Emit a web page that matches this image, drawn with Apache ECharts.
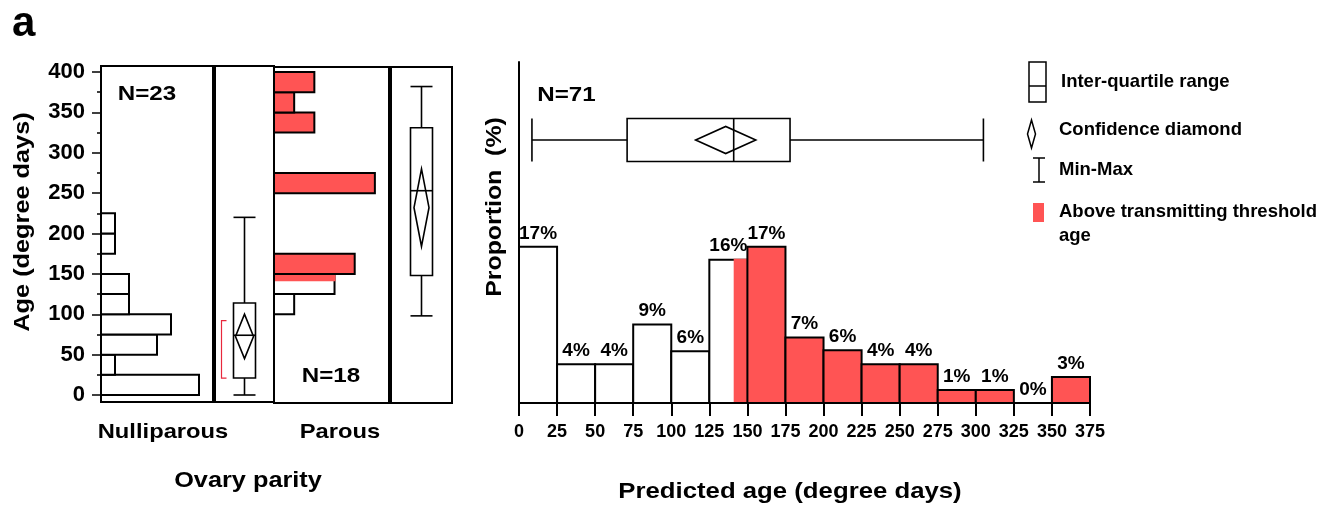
<!DOCTYPE html>
<html>
<head>
<meta charset="utf-8">
<script src="https://cdn.jsdelivr.net/npm/echarts@6/dist/echarts.min.js"></script>
<style>
html, body { margin: 0; padding: 0; background: #fff; }
#chart { width: 1330px; height: 506px; }
</style>
</head>
<body>
<div id="chart"></div>
<script>
var FONT = '"Liberation Sans", Arial, sans-serif';
var RED = '#ff5454';

// bins are 25 degree days wide
var binWidth = 25;
var threshold = 141;

// left: age histograms by ovary parity (counts per bin)
var nulliBinStart = [0, 25, 50, 75, 100, 125, 150, 175, 200];
var nulliCount = [7, 1, 4, 5, 2, 2, 0, 1, 1];
var parousBinStart = [100, 125, 150, 175, 200, 225, 250, 275, 300, 325, 350, 375];
var parousCount = [1, 3, 4, 0, 0, 0, 5, 0, 0, 2, 1, 2];
var ageTicks = [0, 400, 50];

// box summaries: min, q1, median, q3, max
var nulliBox = [0, 21, 74, 114, 220];
var parousBox = [98, 148, 253, 331, 382];
var allBox = [8.5, 71, 141, 178, 305];
// confidence diamonds: low, high
var nulliDiamond = [45, 100];
var parousDiamond = [184, 280];
var allDiamond = [116, 155.5];
var nulliShortHalf = [21, 92];

// right: proportion (%) of predicted age per bin
var ageBinStart = [0, 25, 50, 75, 100, 125, 150, 175, 200, 225, 250, 275, 300, 325, 350];
var proportion = [16.9, 4.2, 4.2, 8.5, 5.6, 15.5, 16.9, 7.1, 5.7, 4.2, 4.2, 1.4, 1.4, 0, 2.8];
var proportionLabel = ['17%', '4%', '4%', '9%', '6%', '16%', '17%', '7%', '6%', '4%', '4%', '1%', '1%', '0%', '3%'];

function pairs(a, b) {
	return a.map(function (v, i) { return [v, b[i]]; });
}

function horizontalBars(markThreshold) {
	return function (params, api) {
		var lo = api.value(0), n = api.value(1), hi = lo + binWidth;
		if (!n) return null;
		var a = api.coord([0, hi]), b = api.coord([n, lo]);
		var children = [{
			type: 'rect',
			shape: { x: a[0], y: a[1], width: b[0] - a[0], height: b[1] - a[1] },
			style: { fill: markThreshold && lo >= threshold ? RED : '#fff', stroke: '#000', lineWidth: 2 }
		}];
		if (markThreshold && lo < threshold && hi > threshold) {
			var t = api.coord([n, threshold]);
			children.push({
				type: 'rect',
				shape: { x: a[0] + 1, y: a[1], width: t[0] - a[0], height: t[1] - a[1] },
				style: { fill: RED }
			});
		}
		return { type: 'group', children: children };
	};
}

function verticalBars(params, api) {
	var lo = api.value(0), pct = api.value(1), hi = lo + binWidth;
	var base = api.coord([lo, 0]), top = api.coord([hi, pct]);
	var children = [];
	if (pct > 0) {
		children.push({
			type: 'rect',
			shape: { x: base[0], y: top[1], width: top[0] - base[0], height: base[1] - top[1] },
			style: { fill: lo >= threshold ? RED : '#fff', stroke: '#000', lineWidth: 2 }
		});
		if (lo < threshold && hi > threshold) {
			var s = api.coord([threshold, 0]);
			children.push({
				type: 'rect',
				shape: { x: s[0], y: top[1] - 1, width: top[0] - s[0], height: base[1] - top[1] },
				style: { fill: RED }
			});
		}
	}
	var lp = api.coord([lo + binWidth / 2, pct]);
	children.push({
		type: 'text', x: lp[0], y: lp[1] - 4,
		style: {
			text: proportionLabel[params.dataIndex], fill: '#000', font: 'bold 19px ' + FONT,
			textAlign: 'center', align: 'center', textVerticalAlign: 'bottom', verticalAlign: 'bottom'
		}
	});
	return { type: 'group', children: children };
}

function boxShape(horizontal, boxHalf, diamondHalf) {
	return function (params, api) {
		var v = [];
		for (var i = 0; i < 7; i++) v.push(api.value(i));
		function pt(val, off) {
			var p = horizontal ? api.coord([val, 0.5]) : api.coord([0.5, val]);
			return horizontal ? [p[0], p[1] + off] : [p[0] + off, p[1]];
		}
		var st = { stroke: '#000', lineWidth: 1.6, fill: 'none' };
		function seg(p1, p2) {
			return { type: 'line', shape: { x1: p1[0], y1: p1[1], x2: p2[0], y2: p2[1] }, style: st };
		}
		var c1 = pt(v[1], -boxHalf), c2 = pt(v[3], boxHalf);
		var mean = (v[5] + v[6]) / 2;
		return {
			type: 'group',
			children: [
				seg(pt(v[0], 0), pt(v[1], 0)),
				seg(pt(v[3], 0), pt(v[4], 0)),
				seg(pt(v[0], -boxHalf), pt(v[0], boxHalf)),
				seg(pt(v[4], -boxHalf), pt(v[4], boxHalf)),
				{
					type: 'rect',
					shape: {
						x: Math.min(c1[0], c2[0]), y: Math.min(c1[1], c2[1]),
						width: Math.abs(c2[0] - c1[0]), height: Math.abs(c2[1] - c1[1])
					},
					style: st
				},
				seg(pt(v[2], -boxHalf), pt(v[2], boxHalf)),
				{
					type: 'polygon',
					shape: { points: [pt(v[5], 0), pt(mean, diamondHalf), pt(v[6], 0), pt(mean, -diamondHalf)] },
					style: st
				}
			]
		};
	};
}

function bracketShape(params, api) {
	var lo = api.coord([0.5, api.value(0)]), hi = api.coord([0.5, api.value(1)]);
	var x = lo[0] - 23, tip = lo[0] - 18;
	return {
		type: 'polyline',
		shape: { points: [[tip, lo[1]], [x, lo[1]], [x, hi[1]], [tip, hi[1]]] },
		style: { fill: 'none', stroke: '#e8283c', lineWidth: 1.2 }
	};
}

function txt(text, x, y, size, align, extra) {
	var el = {
		type: 'text', x: x, y: y,
		style: {
			text: text, fill: '#000', font: 'bold ' + size + 'px ' + FONT,
			textAlign: align, align: align, textVerticalAlign: 'middle', verticalAlign: 'middle'
		}
	};
	for (var k in extra) el[k] = extra[k];
	return el;
}

function frame(left, top, width, height) {
	return { left: left, top: top, width: width, height: height, show: true, borderColor: '#000', borderWidth: 2, backgroundColor: 'transparent', outerBoundsMode: 'none' };
}
function area(left, top, width, height) {
	return { left: left, top: top, width: width, height: height, show: false, outerBoundsMode: 'none' };
}
function hidden(grid, min, max) {
	return { type: 'value', gridIndex: grid, min: min, max: max, show: false, splitLine: { show: false } };
}

var chart = echarts.init(document.getElementById('chart'));

var option = {
	animation: false,
	backgroundColor: '#fff',
	grid: [
		frame(101, 66, 112, 336),
		frame(215, 66, 59, 336),
		frame(274, 67, 115, 336),
		frame(391, 67, 61, 336),
		area(101, 72, 112, 323),
		area(215, 72, 59, 323),
		area(274, 72, 115, 323),
		area(391, 72, 61, 323),
		area(519, 62, 571, 341),
		area(519, 100, 571, 80)
	],
	xAxis: [
		hidden(0, 0, 1), hidden(1, 0, 1), hidden(2, 0, 1), hidden(3, 0, 1),
		hidden(4, 0, 8),
		hidden(5, 0, 1),
		hidden(6, 0, 5.7),
		hidden(7, 0, 1),
		{
			type: 'value', gridIndex: 8, min: 0, max: 375, interval: binWidth,
			axisLine: { show: true, lineStyle: { color: '#000', width: 2 } },
			axisTick: { show: true, length: 13, lineStyle: { color: '#000', width: 2 } },
			axisLabel: { color: '#000', fontFamily: FONT, fontWeight: 'bold', fontSize: 18, margin: 20 },
			splitLine: { show: false }
		},
		hidden(9, 0, 375)
	],
	yAxis: [
		hidden(0, 0, 1), hidden(1, 0, 1), hidden(2, 0, 1), hidden(3, 0, 1),
		{
			type: 'value', gridIndex: 4, min: ageTicks[0], max: ageTicks[1], interval: ageTicks[2],
			axisLine: { show: false },
			axisTick: { show: true, length: 9, lineStyle: { color: '#000', width: 1.5 } },
			minorTick: { show: true, splitNumber: 2, length: 4, lineStyle: { color: '#000', width: 1.5 } },
			axisLabel: { color: '#000', fontFamily: FONT, fontWeight: 'bold', fontSize: 22, margin: 16 },
			splitLine: { show: false },
			minorSplitLine: { show: false }
		},
		hidden(5, 0, 400), hidden(6, 0, 400), hidden(7, 0, 400),
		{
			type: 'value', gridIndex: 8, min: 0, max: 36.9,
			axisLine: { show: true, lineStyle: { color: '#000', width: 2 } },
			axisTick: { show: false },
			axisLabel: { show: false },
			splitLine: { show: false }
		},
		hidden(9, 0, 1)
	],
	series: [
		{
			type: 'custom', name: 'Nulliparous', xAxisIndex: 4, yAxisIndex: 4,
			encode: { x: 1, y: 0 },
			renderItem: horizontalBars(false),
			data: pairs(nulliBinStart, nulliCount)
		},
		{
			type: 'custom', name: 'Nulliparous box', xAxisIndex: 5, yAxisIndex: 5,
			renderItem: boxShape(false, 11, 9),
			data: [nulliBox.concat(nulliDiamond)]
		},
		{
			type: 'custom', name: 'Shortest half', xAxisIndex: 5, yAxisIndex: 5,
			renderItem: bracketShape,
			data: [nulliShortHalf]
		},
		{
			type: 'custom', name: 'Parous', xAxisIndex: 6, yAxisIndex: 6,
			encode: { x: 1, y: 0 },
			renderItem: horizontalBars(true),
			data: pairs(parousBinStart, parousCount)
		},
		{
			type: 'custom', name: 'Parous box', xAxisIndex: 7, yAxisIndex: 7,
			renderItem: boxShape(false, 11, 7.5),
			data: [parousBox.concat(parousDiamond)]
		},
		{
			type: 'custom', name: 'Proportion', xAxisIndex: 8, yAxisIndex: 8,
			renderItem: verticalBars,
			data: pairs(ageBinStart, proportion)
		},
		{
			type: 'custom', name: 'All box', xAxisIndex: 9, yAxisIndex: 9,
			renderItem: boxShape(true, 21.5, 13.5),
			data: [allBox.concat(allDiamond)]
		}
	],
	graphic: [
		txt('a', 12, 24, 42, 'left'),
		txt('Age (degree days)', 22.5, 222, 22, 'center', { rotation: Math.PI / 2, scaleX: 1.15 }),
		txt('N=23', 147, 94.5, 21, 'center', { scaleX: 1.15 }),
		txt('N=18', 331, 376, 21, 'center', { scaleX: 1.15 }),
		txt('Nulliparous', 163, 432, 21, 'center', { scaleX: 1.13 }),
		txt('Parous', 340, 432, 21, 'center', { scaleX: 1.13 }),
		txt('Ovary parity', 248, 481, 22, 'center', { scaleX: 1.15 }),
		txt('Proportion  (%)', 495, 207, 22, 'center', { rotation: Math.PI / 2, scaleX: 1.13 }),
		txt('N=71', 566.5, 95.5, 21, 'center', { scaleX: 1.15 }),
		txt('Predicted age (degree days)', 790, 492, 22, 'center', { scaleX: 1.17 }),

		// legend
		{ type: 'rect', shape: { x: 1029, y: 62, width: 17, height: 40 }, style: { fill: '#fff', stroke: '#000', lineWidth: 1.5 } },
		{ type: 'line', shape: { x1: 1029, y1: 86, x2: 1046, y2: 86 }, style: { stroke: '#000', lineWidth: 1.5 } },
		{ type: 'polygon', shape: { points: [[1031.5, 120], [1035.5, 134], [1031.5, 148], [1027.5, 134]] }, style: { fill: 'none', stroke: '#000', lineWidth: 1.5 } },
		{ type: 'line', shape: { x1: 1039, y1: 158, x2: 1039, y2: 182 }, style: { stroke: '#000', lineWidth: 1.5 } },
		{ type: 'line', shape: { x1: 1033, y1: 158, x2: 1045, y2: 158 }, style: { stroke: '#000', lineWidth: 1.5 } },
		{ type: 'line', shape: { x1: 1033, y1: 182, x2: 1045, y2: 182 }, style: { stroke: '#000', lineWidth: 1.5 } },
		{ type: 'rect', shape: { x: 1033, y: 203, width: 11, height: 19 }, style: { fill: RED } },
		txt('Inter-quartile range', 1061, 82, 18.5, 'left'),
		txt('Confidence diamond', 1059, 130, 18.5, 'left'),
		txt('Min-Max', 1059, 170, 18.5, 'left'),
		txt('Above transmitting threshold', 1059, 212, 18.5, 'left'),
		txt('age', 1059, 236, 18.5, 'left')
	]
};

chart.setOption(option);
</script>
</body>
</html>
